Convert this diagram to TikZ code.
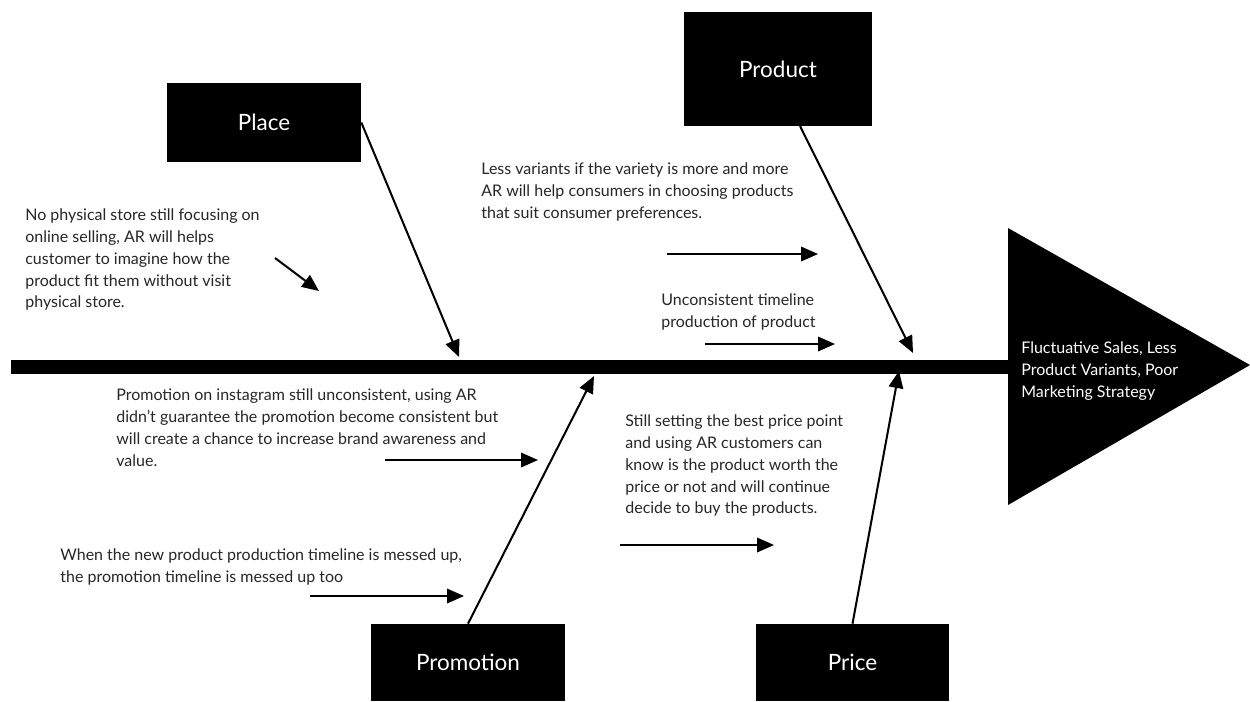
\documentclass[tikz,border=0pt]{standalone}
\usepackage{fontspec}
\setmainfont{Lato}
\usetikzlibrary{arrows.meta}
\tikzset{
  catbox/.style={fill=black, text=white, inner sep=0pt, font=\fontsize{12.8}{15}\selectfont},
  note/.style={anchor=north west, align=left, inner sep=0pt, text=black!85, font=\fontsize{9.1}{12.5}\selectfont},
  bone/.style={line width=1.15pt, -{Triangle[length=0.34cm,width=0.29cm]}}
}
\begin{document}
\begin{tikzpicture}[x=0.02cm,y=-0.02cm]
      \useasboundingbox (0,0) rectangle (1250,701);
      % spine and head
      \fill (11,360) rectangle (1010,374);
      \fill (1008,228) -- (1250,365) -- (1008,505) -- cycle;
      \node[note, text=white] (effect) at (1021,341)
        {Fluctuative Sales, Less\\Product Variants, Poor\\Marketing Strategy};
      % categories
      \draw
        (264,122.5) node[catbox, minimum width=3.88cm, minimum height=1.58cm] (place){Place}
        (778,69) node[catbox, minimum width=3.76cm, minimum height=2.28cm] (product){Product}
        (468,662.5) node[catbox, minimum width=3.88cm, minimum height=1.54cm] (promotion){Promotion}
        (852.5,662.5) node[catbox, minimum width=3.86cm, minimum height=1.54cm] (price){Price};
      % notes
      \node[note] (placenote) at (25,208)
        {No physical store still focusing on\\online selling, AR will helps\\customer to imagine how the\\product fit them without visit\\physical store.};
      \node[note] (productnote) at (481,162)
        {Less variants if the variety is more and more\\AR will help consumers in choosing products\\that suit consumer preferences.};
      \node[note] (timelinenote) at (661,293)
        {Unconsistent timeline\\production of product};
      \node[note] (instagramnote) at (116,388)
        {Promotion on instagram still unconsistent, using AR\\didn't guarantee the promotion become consistent but\\will create a chance to increase brand awareness and\\value.};
      \node[note] (pricenote) at (625,414)
        {Still setting the best price point\\and using AR customers can\\know is the product worth the\\price or not and will continue\\decide to buy the products.};
      \node[note] (messednote) at (60,548)
        {When the new product production timeline is messed up,\\the promotion timeline is messed up too};
      % arrow ends
      \path
        (459,357) coordinate (placetip)
        (800,126) coordinate (productfoot)
        (913,353) coordinate (producttip)
        (594,376) coordinate (promotiontip)
        (899,371) coordinate (pricetip)
        (275,258) coordinate (s1) (319,291) coordinate (e1)
        (667,254) coordinate (s2) (818,254) coordinate (e2)
        (705,344) coordinate (s3) (835,344) coordinate (e3)
        (385,460) coordinate (s4) (538,460) coordinate (e4)
        (620,545) coordinate (s5) (774,545) coordinate (e5)
        (310,596) coordinate (s6) (464,596) coordinate (e6);
      \begin{scope}[bone]
        \draw (place.east) to (placetip);
        \draw (productfoot) to (producttip);
        \draw (promotion.north) to (promotiontip);
        \draw (price.north) to (pricetip);
        \draw (s1) to (e1);
        \draw (s2) to (e2);
        \draw (s3) to (e3);
        \draw (s4) to (e4);
        \draw (s5) to (e5);
        \draw (s6) to (e6);
      \end{scope}
    \end{tikzpicture}
\end{document}
